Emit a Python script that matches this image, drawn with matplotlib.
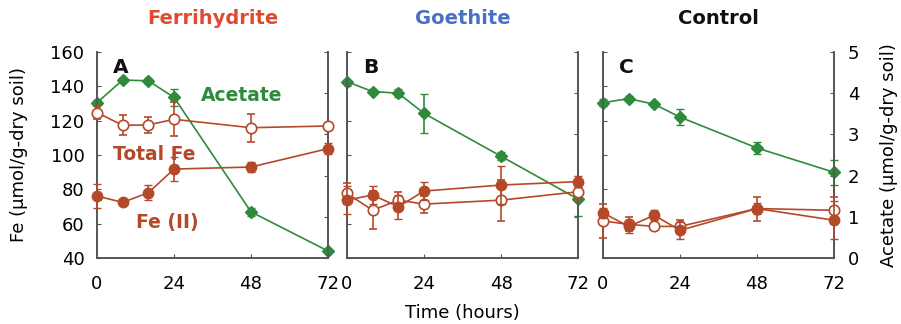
import matplotlib
matplotlib.use("Agg")
import matplotlib.pyplot as plt

plt.rcParams['font.family'] = ['DejaVu Sans']

time_h = [0, 8, 16, 24, 48, 72]
panels = ["A", "B", "C"]
titles = ["Ferrihydrite", "Goethite", "Control"]
title_colors = ["#e04a2f", "#4a70c4", "#111111"]

# Fe (umol/g-dry soil)
fe2 = {
    "A": [76.1, 72.4, 78.0, 91.8, 93.0, 103.7],
    "B": [73.7, 76.7, 69.8, 79.0, 82.5, 84.5],
    "C": [66.3, 58.4, 64.9, 56.1, 68.8, 62.0],
}
fe2_err = {
    "A": [6.9, 1.5, 4.4, 6.9, 3.0, 3.0],
    "B": [8.0, 5.0, 7.0, 5.0, 11.0, 3.0],
    "C": [3.0, 4.0, 3.0, 5.0, 3.0, 11.0],
}
total_fe = {
    "A": [124.7, 117.3, 117.5, 120.8, 115.9, 116.9],
    "B": [77.6, 67.8, 73.7, 71.4, 73.7, 78.6],
    "C": [61.6, 59.6, 58.4, 58.4, 68.8, 67.8],
}
total_fe_err = {
    "A": [4.0, 5.9, 4.4, 9.8, 8.2, 1.5],
    "B": [6.0, 11.0, 5.0, 5.0, 12.0, 5.0],
    "C": [10.0, 4.0, 2.0, 4.0, 7.0, 8.0],
}
# Acetate (umol/g-dry soil)
acetate = {
    "A": [3.77, 4.32, 4.30, 3.90, 1.12, 0.17],
    "B": [4.28, 4.04, 4.00, 3.51, 2.47, 1.43],
    "C": [3.77, 3.87, 3.73, 3.42, 2.67, 2.08],
}
acetate_err = {
    "A": [0.06, 0.05, 0.06, 0.2, 0.1, 0.05],
    "B": [0.05, 0.05, 0.1, 0.48, 0.1, 0.4],
    "C": [0.08, 0.05, 0.05, 0.2, 0.15, 0.3],
}

fe_ticks = [40, 60, 80, 100, 120, 140, 160]
ac_ticks = [0, 1, 2, 3, 4, 5]
x_ticks = [0, 24, 48, 72]

brown = "#b4492a"
green = "#2e8b3c"
spine_c = "#555555"

fig = plt.figure(figsize=(9.01, 3.24), dpi=100)
lefts = [97 / 901, 347 / 901, 603 / 901]
w = 231 / 901
bottom = 1 - 258 / 324
h = (258 - 52) / 324

for i, p in enumerate(panels):
    ax = fig.add_axes([lefts[i], bottom, w, h])
    ax2 = ax.twinx()
    ax.set_zorder(ax2.get_zorder() + 1)
    ax.patch.set_visible(False)
    ax.set_xlim(0, 72)
    ax.set_ylim(40, 160)
    ax2.set_ylim(0, 5)
    for a in (ax, ax2):
        a.spines['top'].set_visible(False)
        for s in a.spines.values():
            s.set_color(spine_c)
            s.set_linewidth(1.2)
    ax.set_xticks(x_ticks)
    ax.set_yticks(fe_ticks)
    ax2.set_yticks(ac_ticks)
    ax.tick_params(axis='both', direction='in', length=3, color=spine_c,
                   labelsize=13, pad=9)
    ax.tick_params(axis='x', pad=12)
    ax2.tick_params(axis='y', direction='in', length=3, color=spine_c,
                    labelsize=13, pad=10)
    if i != 0:
        ax.set_yticklabels([])
    if i != 2:
        ax2.set_yticklabels([])

    # Acetate
    ax2.errorbar(time_h, acetate[p], yerr=acetate_err[p], color=green,
                 marker='D', ms=6.5, mfc=green, mec=green, lw=1.2,
                 elinewidth=1.2, capsize=3, clip_on=False, zorder=3)
    # Total Fe (open)
    ax.errorbar(time_h, total_fe[p], yerr=total_fe_err[p], color=brown,
                marker='o', ms=7.5, mfc='white', mec=brown, mew=1.2, lw=1.2,
                elinewidth=1.2, capsize=3, clip_on=False, zorder=4)
    # Fe(II) (filled)
    ax.errorbar(time_h, fe2[p], yerr=fe2_err[p], color=brown,
                marker='o', ms=7.5, mfc=brown, mec=brown, lw=1.2,
                elinewidth=1.2, capsize=3, clip_on=False, zorder=5)

    ax.text(0.07, 0.97, p, transform=ax.transAxes, fontsize=14.5,
            fontweight='bold', va='top', ha='left', color='#111111')
    ax.set_title(titles[i], color=title_colors[i], fontsize=14,
                 fontweight='bold', pad=20)

    if i == 0:
        ax.set_ylabel("Fe (μmol/g-dry soil)", fontsize=13, labelpad=16)
        ax.text(0.45, 0.79, "Acetate", transform=ax.transAxes, color=green,
                fontsize=13.5, fontweight='bold', ha='left', va='center')
        ax.text(0.07, 0.50, "Total Fe", transform=ax.transAxes, color=brown,
                fontsize=13.5, fontweight='bold', ha='left', va='center')
        ax.text(0.17, 0.17, "Fe (II)", transform=ax.transAxes, color=brown,
                fontsize=13.5, fontweight='bold', ha='left', va='center')
    if i == 1:
        ax.set_xlabel("Time (hours)", fontsize=13, labelpad=8)
    if i == 2:
        ax2.set_ylabel("Acetate (μmol/g-dry soil)", fontsize=13, labelpad=15)

fig.savefig("out.png", dpi=100)
